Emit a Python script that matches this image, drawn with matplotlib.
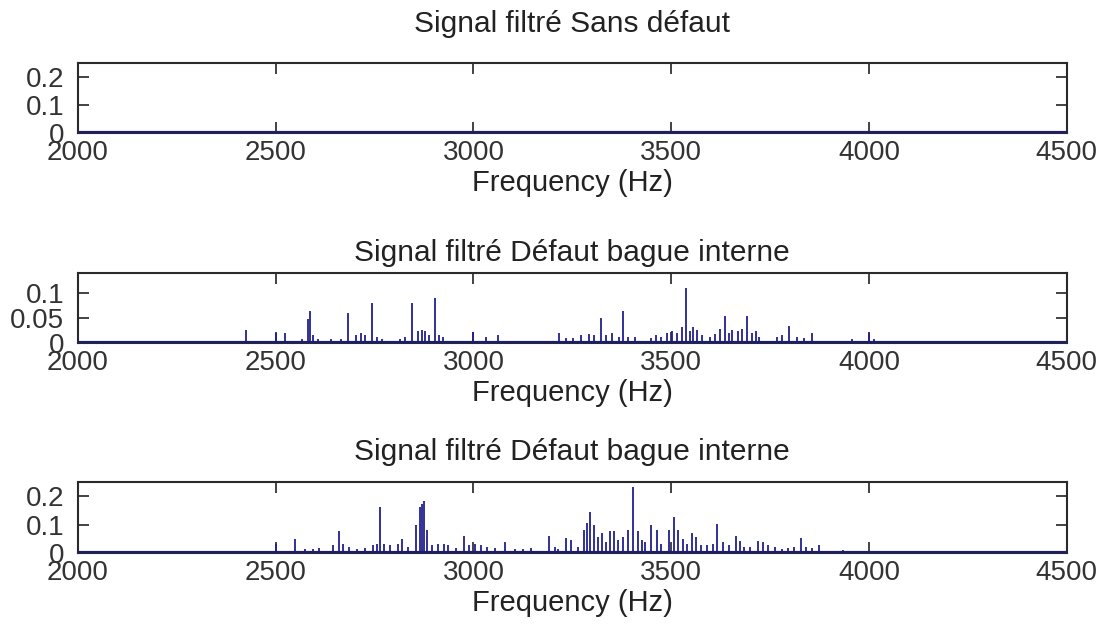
import matplotlib
matplotlib.use("Agg")
import matplotlib.pyplot as plt

# peaks (frequency in Hz, amplitude)
freq_sans = []
amp_sans = []

freq_int1 = [2426, 2500, 2524, 2567, 2581, 2587, 2594, 2608, 2639, 2666, 2684, 2702, 2716,
             2727, 2743, 2756, 2770, 2788, 2815, 2828, 2844, 2860, 2869, 2878, 2887, 2902,
             2914, 2923, 2999, 3033, 3062, 3217, 3233, 3251, 3273, 3291, 3305, 3323, 3336,
             3350, 3367, 3379, 3390, 3408, 3448, 3462, 3475, 3489, 3502, 3516, 3527, 3538,
             3547, 3556, 3565, 3579, 3597, 3610, 3624, 3637, 3646, 3655, 3669, 3680, 3693,
             3705, 3714, 3723, 3768, 3781, 3799, 3819, 3836, 3856, 3958, 4000, 4013]
amp_int1 = [0.026, 0.021, 0.021, 0.009, 0.048, 0.064, 0.017, 0.009, 0.008, 0.009, 0.060, 0.017, 0.021,
            0.017, 0.081, 0.013, 0.009, 0.005, 0.008, 0.013, 0.081, 0.025, 0.026, 0.025, 0.017, 0.091,
            0.017, 0.013, 0.023, 0.013, 0.016, 0.021, 0.011, 0.011, 0.016, 0.019, 0.016, 0.050, 0.017,
            0.021, 0.013, 0.064, 0.013, 0.013, 0.011, 0.017, 0.013, 0.021, 0.025, 0.021, 0.033, 0.110,
            0.025, 0.033, 0.026, 0.017, 0.013, 0.019, 0.029, 0.054, 0.021, 0.026, 0.025, 0.029, 0.054,
            0.021, 0.025, 0.013, 0.013, 0.017, 0.035, 0.013, 0.011, 0.020, 0.009, 0.020, 0.009]

freq_int2 = [2500, 2550, 2575, 2595, 2610, 2645, 2660, 2670, 2685, 2705, 2725, 2745, 2755,
             2764, 2775, 2790, 2810, 2820, 2835, 2855, 2865, 2870, 2875, 2883, 2895, 2910,
             2925, 2935, 2955, 2977, 2990, 3005, 3020, 3035, 3055, 3080, 3105, 3125, 3145,
             3190, 3205, 3215, 3235, 3247, 3265, 3280, 3287, 3295, 3305, 3315, 3325, 3335,
             3345, 3355, 3365, 3377, 3390, 3403, 3415, 3425, 3435, 3450, 3463, 3475, 3495,
             3507, 3517, 3530, 3540, 3553, 3563, 3575, 3590, 3605, 3617, 3630, 3645, 3663,
             3673, 3685, 3700, 3720, 3733, 3745, 3763, 3780, 3795, 3810, 3828, 3840, 3855,
             3875, 3935]
amp_int2 = [0.033, 0.051, 0.015, 0.015, 0.017, 0.027, 0.076, 0.033, 0.021, 0.015, 0.017, 0.027, 0.033,
            0.162, 0.033, 0.027, 0.033, 0.051, 0.021, 0.100, 0.162, 0.174, 0.184, 0.082, 0.027, 0.033,
            0.033, 0.029, 0.017, 0.060, 0.027, 0.033, 0.027, 0.021, 0.017, 0.037, 0.015, 0.015, 0.017,
            0.060, 0.021, 0.015, 0.054, 0.045, 0.021, 0.082, 0.107, 0.143, 0.100, 0.058, 0.070, 0.039,
            0.076, 0.076, 0.045, 0.058, 0.082, 0.233, 0.076, 0.045, 0.039, 0.100, 0.082, 0.033, 0.082,
            0.127, 0.082, 0.051, 0.033, 0.070, 0.058, 0.027, 0.027, 0.033, 0.103, 0.039, 0.027, 0.060,
            0.042, 0.021, 0.021, 0.042, 0.037, 0.027, 0.021, 0.015, 0.017, 0.021, 0.054, 0.021, 0.017,
            0.027, 0.009]

titles = ["Signal filtré Sans défaut", "Signal filtré Défaut bague interne",
          "Signal filtré Défaut bague interne"]
ylims = [0.25, 0.14, 0.25]
yticks = [[0, 0.1, 0.2], [0, 0.05, 0.1], [0, 0.1, 0.2]]
xticks = [2000, 2500, 3000, 3500, 4000, 4500]

plt.rcParams["font.family"] = ["Liberation Sans", "DejaVu Sans"]
plt.rcParams["font.size"] = 20

fig = plt.figure(figsize=(11.01, 6.33), dpi=100)
positions = [[0.0708, 0.7899, 0.898, 0.1106],
             [0.0708, 0.4581, 0.898, 0.1106],
             [0.0708, 0.1264, 0.898, 0.1120]]
title_pads = [22, 9, 16]

data = [(freq_sans, amp_sans), (freq_int1, amp_int1), (freq_int2, amp_int2)]
for i, (f, a) in enumerate(data):
    ax = fig.add_axes(positions[i])
    ax.vlines(f, 0, a, color="#202090", linewidth=1.3)
    ax.axhline(0, color="#1c1c78", linewidth=3, zorder=3)
    ax.set_xlim(2000, 4500)
    ax.set_ylim(0, ylims[i])
    ax.set_xticks(xticks)
    ax.set_yticks(yticks[i])
    ax.set_yticklabels([f"{v:g}" for v in yticks[i]])
    ax.tick_params(direction="in", top=True, right=True, length=8, width=1.2,
                   color="#222222", labelcolor="#333333")
    ax.tick_params(axis="y", pad=10)
    ax.tick_params(axis="x", pad=5)
    for s in ax.spines.values():
        s.set_color("#2a2a2a")
        s.set_linewidth(1.5)
    ax.set_xlabel("Frequency (Hz)", color="#222222", labelpad=2, fontsize=21)
    ax.set_title(titles[i], color="#222222", pad=title_pads[i], fontsize=21.5)

plt.savefig("out.png", dpi=100)
